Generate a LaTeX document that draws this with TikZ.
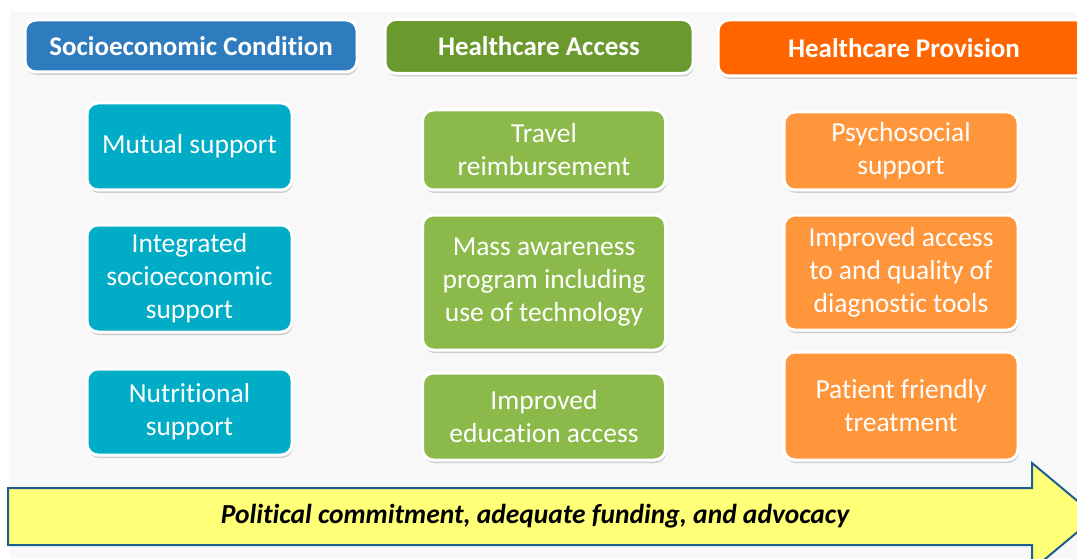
\documentclass[tikz,border=0pt]{standalone}
\usepackage{fontspec}
\setmainfont{Carlito}[Ligatures=NoCommon]
\usetikzlibrary{shadows}

\definecolor{hdblue}{RGB}{46,124,190}
\definecolor{hdgreen}{RGB}{106,153,46}
\definecolor{hdorange}{RGB}{255,102,0}
\definecolor{bxteal}{RGB}{0,172,198}
\definecolor{bxgreen}{RGB}{140,186,74}
\definecolor{bxorange}{RGB}{255,150,60}
\definecolor{arrowfill}{RGB}{255,255,120}
\definecolor{arrowline}{RGB}{31,95,143}
\definecolor{pagegrey}{RGB}{248,248,248}

\tikzset{
  card/.style={draw=white, line width=3pt, rounded corners=11pt, text=white,
    align=center, inner sep=0pt,
    drop shadow={shadow xshift=1pt, shadow yshift=-3pt, fill=black!30, opacity=0.6}},
  header/.style={card, font=\fontsize{27}{32}\selectfont\bfseries},
  item/.style={card, font=\fontsize{27.5}{33}\selectfont}
}

\begin{document}
\begin{tikzpicture}[x=1pt,y=-1pt]
\useasboundingbox (0,0) rectangle (1077,559);
\clip (0,0) rectangle (1077,559);
\fill[pagegrey] (10,12) rectangle (1077,559);

% Column headers
\node[header, fill=hdblue, minimum width=332pt, minimum height=52pt] (socio) at (191,46) {Socioeconomic Condition};
\node[header, fill=hdgreen, minimum width=308pt, minimum height=54pt] (access) at (539,46.5) {Healthcare Access};
\node[header, fill=hdorange, minimum width=372pt, minimum height=56pt] (provision) at (904,48) {Healthcare Provision};

% Socioeconomic condition
\begin{scope}[every node/.style={item, fill=bxteal, minimum width=205pt}]
\node[minimum height=87pt] (mutual) at (189.5,146.5) {Mutual support};
\node[minimum height=107pt] (integrated) at (189.5,278.5) {Integrated\\socioeconomic\\support};
\node[minimum height=86pt] (nutrition) at (189.5,412) {Nutritional\\support};
\end{scope}

% Healthcare access
\begin{scope}[every node/.style={item, fill=bxgreen, minimum width=243pt}]
\node[minimum height=80pt] (travel) at (544,150) {Travel\\reimbursement};
\node[minimum height=135pt] (awareness) at (544,282.5) {Mass awareness\\program including\\use of technology};
\node[minimum height=87pt] (education) at (544,416.5) {Improved\\education access};
\end{scope}

% Healthcare provision
\begin{scope}[every node/.style={item, fill=bxorange, minimum width=234pt}]
\node[minimum height=78pt] (psycho) at (901,151) {Psychosocial\\support};
\node[minimum height=115pt] (diagnostic) at (901,272.5) {Improved access\\to and quality of\\diagnostic tools};
\node[minimum height=108pt] (treatment) at (901,406) {Patient friendly\\treatment};
\end{scope}

% Bottom arrow
\draw[fill=arrowfill, draw=arrowline, line width=2pt, line join=miter]
  (8,488) -- (1032,488) -- (1032,463) -- (1096,516.5) -- (1032,570) -- (1032,545) -- (8,545) -- cycle;
\node[font=\fontsize{27.5}{32}\selectfont\bfseries\itshape] (commitment) at (535,516.5) {Political commitment, adequate funding, and advocacy};
\end{tikzpicture}
\end{document}
